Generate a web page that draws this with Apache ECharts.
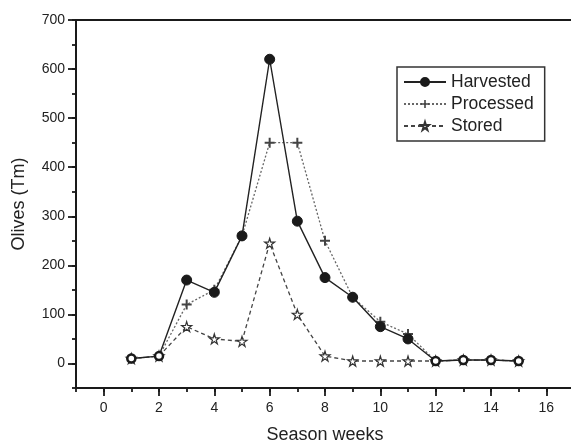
<!DOCTYPE html>
<html><head><meta charset="utf-8">
<script src="https://cdn.jsdelivr.net/npm/echarts@6/dist/echarts.min.js"></script>
<style>html,body{margin:0;padding:0;background:#fff}#c{width:571px;height:444px}</style>
</head><body><div id="c"></div>
<script>
const weeks = [1,2,3,4,5,6,7,8,9,10,11,12,13,14,15];
const harvested = [10,15,170,145,260,620,290,175,135,75,50,5,7,7,5];
const processed = [10,15,120,150,260,450,450,250,135,85,60,5,7,7,5];
const stored = [10,15,75,50,45,245,100,15,5,5,5,5,7,7,5];
const xTickLabels = [0,2,4,6,8,10,12,14,16];
const yTickLabels = [0,100,200,300,400,500,600,700];
const openWeeks = [1,2,12,13,14,15];

const C = '#1a1a1a';
const font = 'Liberation Sans, Arial, sans-serif';
const pair = (arr) => weeks.map((w,i)=>[w,arr[i]]);
const harvData = weeks.map((w,i)=> openWeeks.includes(w)
  ? {value:[w,harvested[i]], symbolSize:8, itemStyle:{color:'#fff', borderColor:C, borderWidth:2.5}}
  : {value:[w,harvested[i]]});

const chart = echarts.init(document.getElementById('c'), null, {renderer:'canvas'});
chart.setOption({
  animation:false,
  backgroundColor:'#fff',
  grid:{left:76, top:20, right:-3, bottom:56, show:false, containLabel:false, outerBoundsMode:'none'},
  legend:{
    data:['Harvested','Processed','Stored'],
    orient:'vertical', left:397, top:67,
    itemWidth:42, itemHeight:10, itemGap:4,
    borderColor:'#333', borderWidth:1.5, padding:[6,11,6,6],
    textStyle:{fontFamily:font, fontSize:17.5, color:'#222'}
  },
  xAxis:[{
    type:'value', min:-1, max:17, interval:1,
    name:'Season weeks', nameLocation:'middle', nameGap:38,
    nameTextStyle:{fontFamily:font, fontSize:18, color:'#222'},
    axisLine:{show:true, onZero:false, lineStyle:{color:C, width:2}},
    axisTick:{show:true, length:4, lineStyle:{color:C, width:1.8}},
    axisLabel:{fontFamily:font, fontSize:14, color:'#222', margin:13,
      formatter:(v)=> xTickLabels.includes(v) ? String(v) : ''},
    splitLine:{show:false}
  },{
    type:'value', min:-1, max:17, position:'top',
    axisLine:{show:true, onZero:false, lineStyle:{color:C, width:2}},
    axisTick:{show:false}, axisLabel:{show:false}, splitLine:{show:false}
  },{
    type:'value', min:-1, max:17, position:'bottom',
    axisLine:{show:false, onZero:false},
    axisTick:{show:true, customValues:xTickLabels, length:8, lineStyle:{color:C, width:1.8}},
    axisLabel:{show:false}, splitLine:{show:false}
  }],
  yAxis:[{
    type:'value', min:-50, max:700, interval:50,
    name:'Olives (Tm)', nameLocation:'middle', nameGap:48,
    nameTextStyle:{fontFamily:font, fontSize:18, color:'#222'},
    axisLine:{show:true, onZero:false, lineStyle:{color:C, width:2}},
    axisTick:{show:true, length:4, lineStyle:{color:C, width:1.8}},
    axisLabel:{fontFamily:font, fontSize:14, color:'#222', margin:11,
      formatter:(v)=> yTickLabels.includes(v) ? String(v) : ''},
    splitLine:{show:false}
  },{
    type:'value', min:-50, max:700, position:'left',
    axisLine:{show:false, onZero:false},
    axisTick:{show:true, customValues:yTickLabels, length:8, lineStyle:{color:C, width:1.8}},
    axisLabel:{show:false}, splitLine:{show:false}
  }],
  series:[
    {name:'Stored', type:'line', data:pair(stored), xAxisIndex:0, yAxisIndex:0,
     symbol:'path://M50,0 L61,35 L98,35 L68,57 L79,91 L50,70 L21,91 L32,57 L2,35 L39,35 Z',
     symbolSize:10, itemStyle:{color:'#fff', borderColor:'#333', borderWidth:1.2},
     lineStyle:{color:'#444', width:1.3, type:[4,3]}, z:2},
    {name:'Processed', type:'line', data:pair(processed), xAxisIndex:0, yAxisIndex:0,
     symbol:'path://M4,0 L6,0 L6,4 L10,4 L10,6 L6,6 L6,10 L4,10 L4,6 L0,6 L0,4 L4,4 Z',
     symbolSize:10, itemStyle:{color:'#444', borderWidth:0},
     lineStyle:{color:'#666', width:1.3, type:[2,2]}, z:3},
    {name:'Harvested', type:'line', data:harvData, xAxisIndex:0, yAxisIndex:0,
     symbol:'circle', symbolSize:10, itemStyle:{color:C, borderColor:C, borderWidth:1},
     lineStyle:{color:'#222', width:1.4}, z:4}
  ]
});
</script></body></html>
